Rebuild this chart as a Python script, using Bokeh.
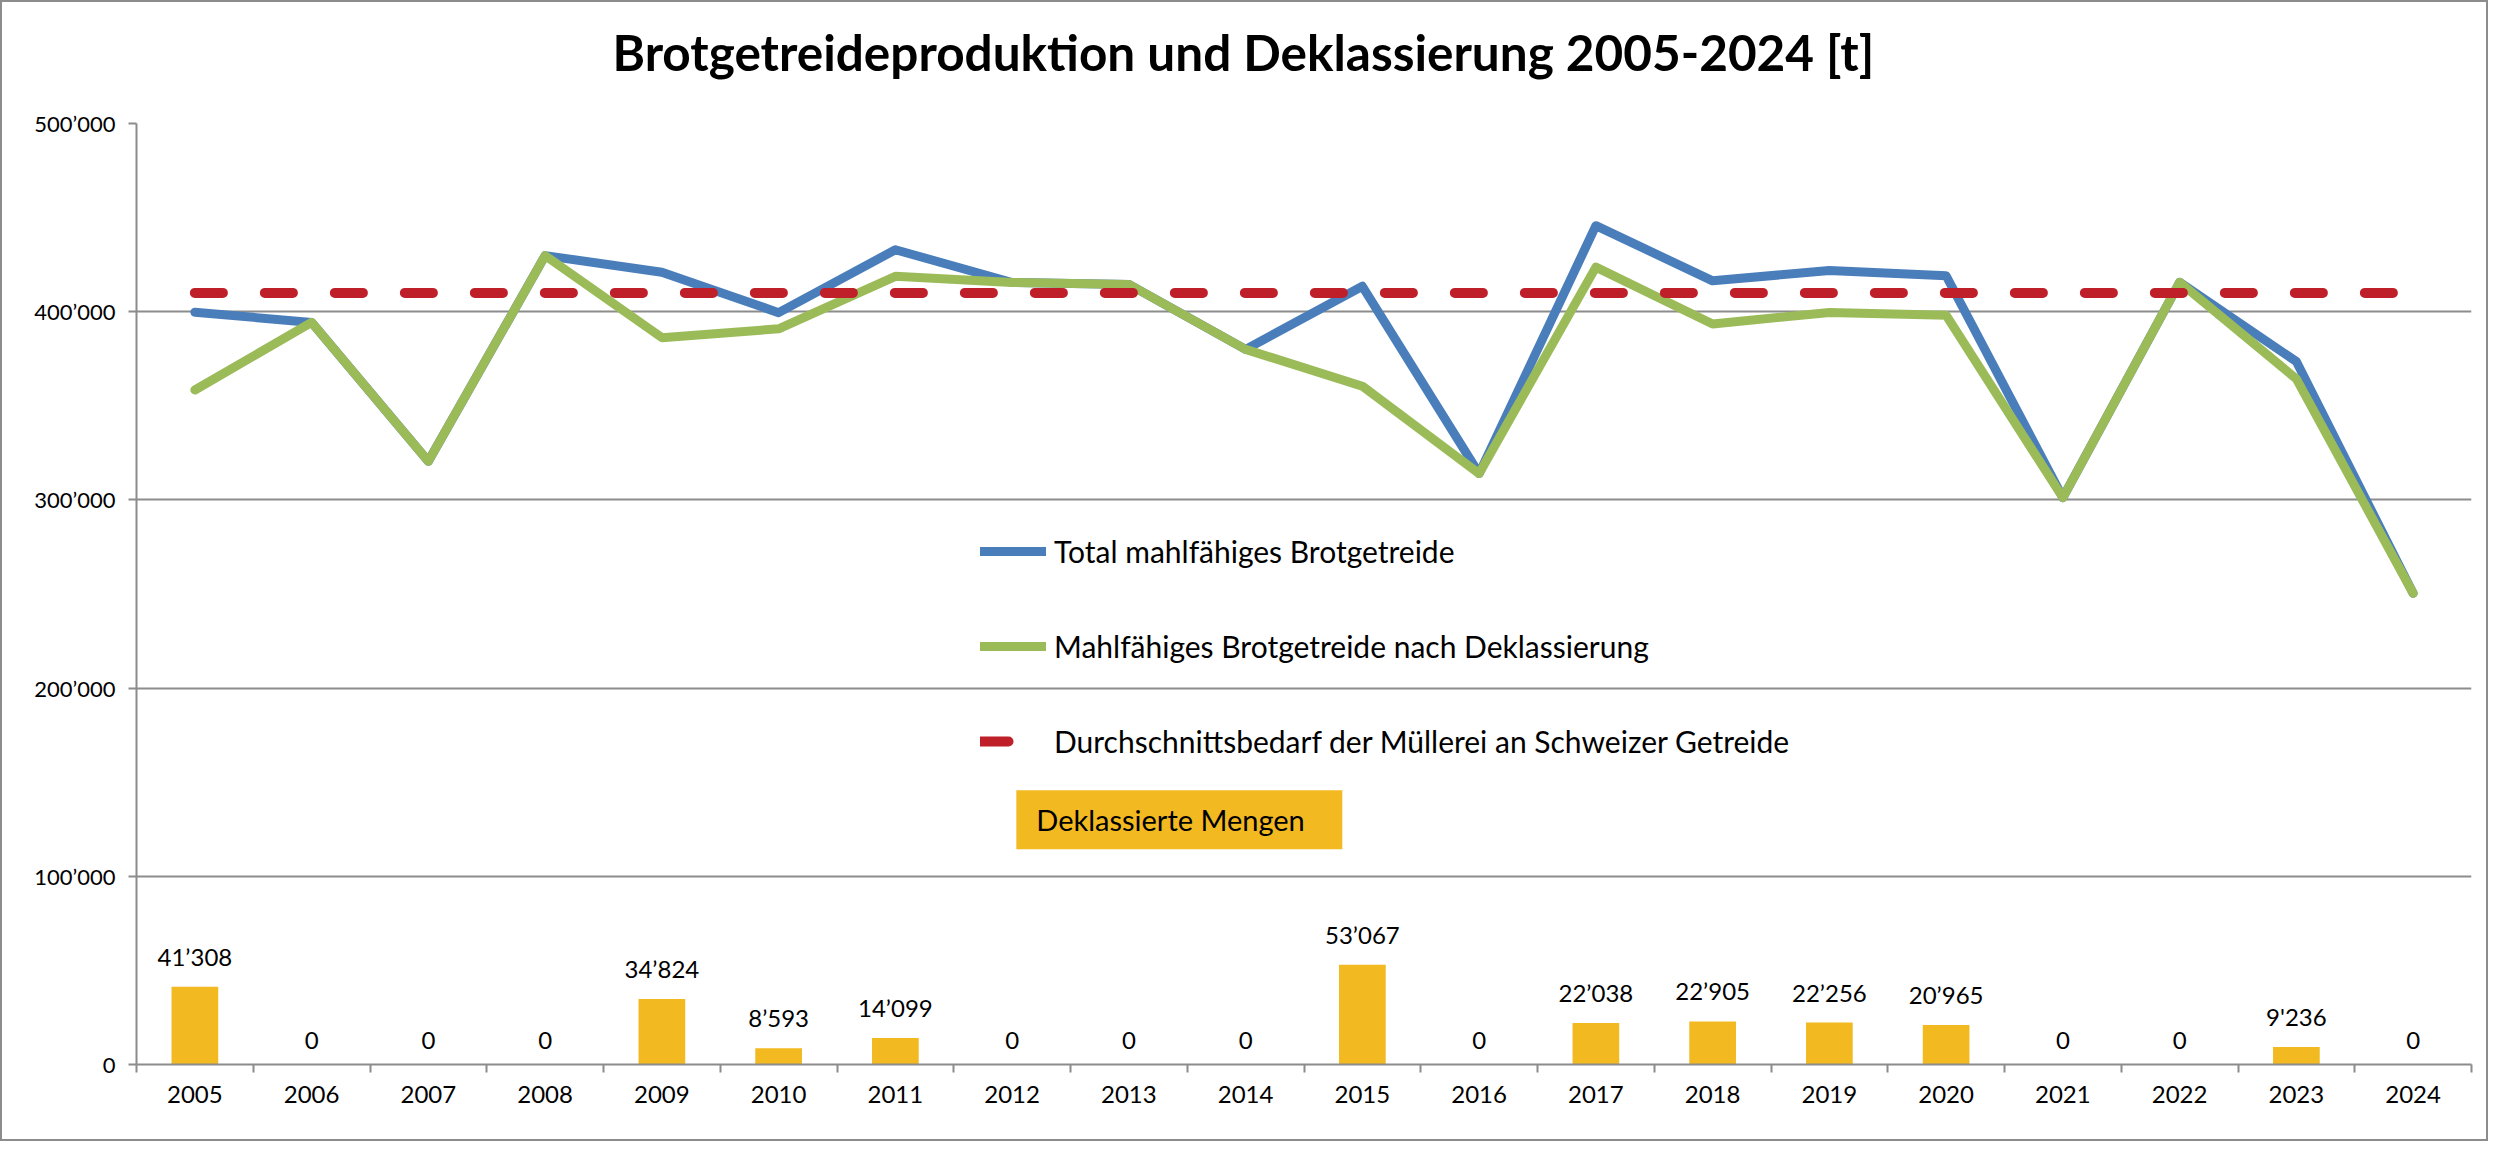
from bokeh.plotting import figure
from bokeh.models import Range1d, FixedTicker, Legend, LegendItem, Label, BoxAnnotation, ColumnDataSource, Title
from bokeh.core.properties import value
from bokeh.embed import file_html
from bokeh.resources import INLINE

# ---------------- data ----------------
years = ["2005", "2006", "2007", "2008", "2009", "2010", "2011", "2012", "2013", "2014",
         "2015", "2016", "2017", "2018", "2019", "2020", "2021", "2022", "2023", "2024"]
total = [399700, 394300, 320500, 429800, 421000, 399500, 432900, 415500, 414500, 380000,
         413500, 314000, 445700, 416400, 421900, 419100, 301200, 415600, 373500, 250400]
nach_deklass = [358400, 394300, 320500, 429800, 386200, 390900, 418800, 415500, 414500, 380000,
                360400, 314000, 423700, 393500, 399600, 398100, 301200, 415600, 364300, 250400]
deklass = [41308, 0, 0, 0, 34824, 8593, 14099, 0, 0, 0,
           53067, 0, 22038, 22905, 22256, 20965, 0, 0, 9236, 0]
deklass_labels = ["41’308", "0", "0", "0", "34’824", "8’593", "14’099", "0", "0", "0",
                  "53’067", "0", "22’038", "22’905", "22’256", "20’965", "0", "0", "9'236", "0"]
avg_demand = 410000
y_ticks = [0, 100000, 200000, 300000, 400000, 500000]
y_labels = ["0", "100’000", "200’000", "300’000", "400’000", "500’000"]

series_names = ["Total mahlfähiges Brotgetreide",
                "Mahlfähiges Brotgetreide nach Deklassierung",
                "Durchschnittsbedarf der Müllerei an Schweizer Getreide",
                "Deklassierte Mengen"]
title_text = "Brotgetreideproduktion und Deklassierung 2005-2024 [t]"

# ---------------- styles ----------------
BLUE = "#4A7EBB"
GREEN = "#9BBB59"
RED = "#BE1F29"
YELLOW = "#F2B920"
GRID = "#8C8C8C"
FONT = "Lato"

idx = list(range(len(years)))
src = ColumnDataSource(dict(
    x=idx, year=years, total=total, nach=nach_deklass,
    deklass=deklass, lab=deklass_labels, demand=[avg_demand] * len(years),
))

p = figure(frame_width=2335, frame_height=941, title=None,
           x_range=Range1d(-0.5, len(years) - 0.5), y_range=Range1d(0, 500000),
           output_backend="svg", toolbar_location=None,
           min_border_left=134, min_border_right=15, min_border_top=121, min_border_bottom=75)
p.styles = {"border": "2px solid #8C8C8C"}

p.outline_line_color = None
p.background_fill_color = "white"
p.border_fill_color = "white"

# spacer between frame and title, then the title (centred on the whole chart)
p.add_layout(Title(text=" ", text_font=FONT, text_font_size="24px", standoff=11), "above")
p.add_layout(Title(text=title_text, align="left", offset=476, standoff=0,
                   text_font=FONT, text_font_size="49.5px", text_font_style="bold",
                   text_color="black"), "above")

# grid
p.xgrid.visible = False
p.ygrid.ticker = FixedTicker(ticks=y_ticks[1:])
p.ygrid.grid_line_color = GRID
p.ygrid.grid_line_width = 2

# y axis
p.yaxis.ticker = FixedTicker(ticks=y_ticks)
p.yaxis.major_label_overrides = dict(zip(y_ticks, y_labels))
p.yaxis.axis_line_color = GRID
p.yaxis.axis_line_width = 2
p.yaxis.major_tick_line_color = GRID
p.yaxis.major_tick_line_width = 2
p.yaxis.major_tick_out = 8
p.yaxis.major_tick_in = 0
p.yaxis.minor_tick_line_color = None
p.yaxis.major_label_standoff = 13
p.yaxis.major_label_text_font = FONT
p.yaxis.major_label_text_font_size = "22px"
p.yaxis.major_label_text_color = "black"

# x axis
p.xaxis.ticker = FixedTicker(ticks=idx, minor_ticks=[i - 0.5 for i in range(len(years) + 1)])
p.xaxis.major_label_overrides = {i: y for i, y in zip(idx, years)}
p.xaxis.axis_line_color = GRID
p.xaxis.axis_line_width = 2
p.xaxis.major_tick_line_color = None
p.xaxis.minor_tick_line_color = GRID
p.xaxis.minor_tick_line_width = 2
p.xaxis.minor_tick_out = 8
p.xaxis.minor_tick_in = 0
p.xaxis.major_label_standoff = 13
p.xaxis.major_label_text_font = FONT
p.xaxis.major_label_text_font_size = "24px"
p.xaxis.major_label_text_color = "black"

# bars + labels
p.vbar(x="x", top="deklass", width=0.4, source=src, fill_color=YELLOW, line_color=None)
p.text(x="x", y="deklass", text="lab", source=src, text_align="center", text_baseline="bottom",
       y_offset=-16, text_font=value(FONT), text_font_size="24px", text_color="black")

# lines
r_blue = p.line(x="x", y="total", source=src, line_color=BLUE, line_width=9,
                line_join="round", line_cap="round")
r_green = p.line(x="x", y="nach", source=src, line_color=GREEN, line_width=9,
                 line_join="round", line_cap="round")
r_red = p.line(x="x", y="demand", source=src, line_color=RED, line_width=10,
               line_dash="28 42", line_cap="round")

legend = Legend(items=[LegendItem(label=series_names[0], renderers=[r_blue]),
                       LegendItem(label=series_names[1], renderers=[r_green]),
                       LegendItem(label=series_names[2], renderers=[r_red])],
                location=(844, 305), orientation="vertical",
                glyph_width=66, glyph_height=36, label_height=36, spacing=59,
                label_standoff=8, padding=0, margin=0,
                border_line_color=None, background_fill_alpha=0,
                label_text_font=FONT, label_text_font_size="30px", label_text_color="black")
p.add_layout(legend)

# "Deklassierte Mengen" box in legend area
p.add_layout(BoxAnnotation(left=7.036, right=9.828, bottom=114362, top=145745,
                           fill_color=YELLOW, fill_alpha=1.0, line_color=None))
p.add_layout(Label(x=7.207, y=130053, text=series_names[3], text_baseline="middle",
                   text_font=FONT, text_font_size="29px", text_color="black"))

open("out.html", "w").write(file_html(p, INLINE))
